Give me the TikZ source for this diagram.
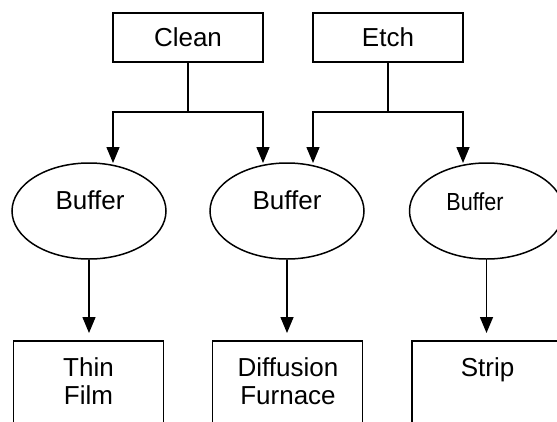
\documentclass[tikz,border=0pt]{standalone}
\usepackage{fontspec}
\setmainfont{Liberation Sans}
\usepackage{graphicx}
\usetikzlibrary{arrows.meta,shapes.geometric}
\begin{document}
\begin{tikzpicture}[x=1pt,y=-1pt,
  every node/.style={font=\fontsize{26}{30}\selectfont},
  box/.style={draw, rectangle, line width=1.5pt, inner sep=0pt, minimum width=150pt, minimum height=49pt},
  lowbox/.style={draw, rectangle, line width=1.5pt, inner sep=0pt, minimum width=150pt, minimum height=100pt, anchor=north},
  oval/.style={draw, ellipse, line width=1.5pt, inner sep=0pt, minimum width=154pt, minimum height=96pt},
  lbl/.style={anchor=base, inner sep=0pt},
  wire/.style={line width=1.5pt},
  arr/.style={wire, -{Triangle[length=16pt,width=13pt]}}]
\fill[white] (0,0) rectangle (557,421);
\useasboundingbox (0,0) rectangle (557,421);
\clip (0,0) rectangle (557,421);

% top boxes
\node[box] (clean) at (188,37.5) {Clean};
\node[box] (etch) at (388,37.5) {Etch};

% buffers
\node[oval] (e1) at (89,211) {};
\node[oval] (e2) at (287,211) {};
\node[oval] (e3) at (486.5,211) {};
\node[lbl] (l1) at (90,209) {Buffer};
\node[lbl] (l2) at (287,209) {Buffer};
\node[lbl] (l3) at (475,210) {\scalebox{0.83}[0.95]{Buffer}};

% bottom boxes
\node[lowbox] (b1) at (88.5,340) {};
\node[lowbox] (b2) at (287.5,340) {};
\node[lowbox] (b3) at (487,340) {};
\node[lbl] (t1a) at (88.5,376) {Thin};
\node[lbl] (t1b) at (88.5,404) {Film};
\node[lbl] (t2a) at (288,376) {Diffusion};
\node[lbl] (t2b) at (288,404) {Furnace};
\node[lbl] (t3a) at (487.5,376) {Strip};

% arrow ends on buffers
\coordinate (a1) at (113,163);
\coordinate (a2) at (263,163);
\coordinate (a3) at (313,163);
\coordinate (a4) at (463,163);
\coordinate (jc) at (188,112);
\coordinate (je) at (388,112);

\draw[wire] (clean.south) -- (jc);
\draw[arr] (jc) -| (a1);
\draw[arr] (jc) -| (a2);
\draw[wire] (etch.south) -- (je);
\draw[arr] (je) -| (a3);
\draw[arr] (je) -| (a4);

\draw[arr, shorten >=7pt] (e1.south) -- (e1.south |- b1.north);
\draw[arr, shorten >=7pt] (e2.south) -- (e2.south |- b2.north);
\draw[arr, shorten >=7pt] (e3.south) -- (e3.south |- b3.north);
\end{tikzpicture}
\end{document}
